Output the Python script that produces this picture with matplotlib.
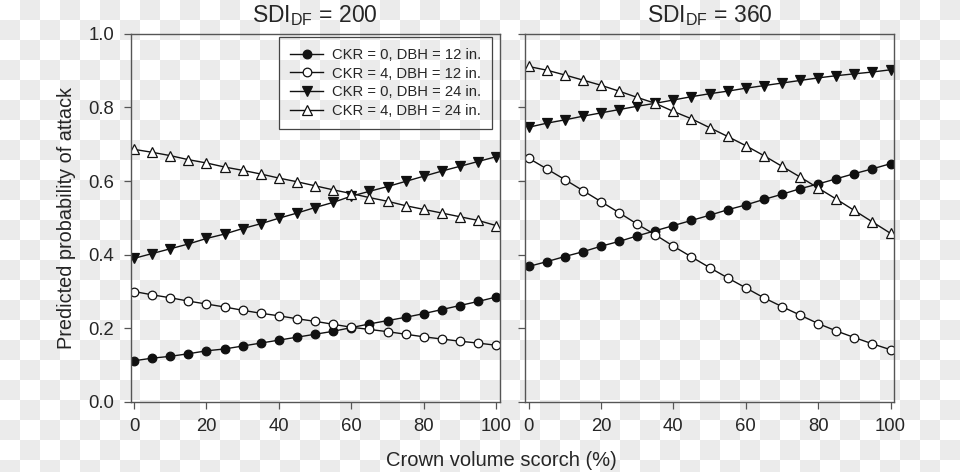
import numpy as np
import matplotlib
matplotlib.use("Agg")
import matplotlib.pyplot as plt

plt.rcParams['font.family'] = ['Liberation Sans', 'DejaVu Sans']
plt.rcParams['mathtext.fontset'] = 'custom'
plt.rcParams['mathtext.rm'] = 'Liberation Sans'

# ---- data ----
scorch = [0, 5, 10, 15, 20, 25, 30, 35, 40, 45, 50, 55, 60, 65, 70, 75, 80, 85, 90, 95, 100]
x_ticks = [0, 20, 40, 60, 80, 100]
y_ticks = [0.0, 0.2, 0.4, 0.6, 0.8, 1.0]
panel_titles = [r'SDI$_{\mathrm{DF}}$ = 200', r'SDI$_{\mathrm{DF}}$ = 360']
series_labels = ['CKR = 0, DBH = 12 in.', 'CKR = 4, DBH = 12 in.',
                 'CKR = 0, DBH = 24 in.', 'CKR = 4, DBH = 24 in.']

ckr0_dbh12_200 = [0.112, 0.119, 0.124, 0.131, 0.139, 0.144, 0.152, 0.160, 0.168, 0.176, 0.184,
                  0.192, 0.202, 0.212, 0.221, 0.230, 0.240, 0.251, 0.262, 0.273, 0.285]
ckr4_dbh12_200 = [0.300, 0.291, 0.283, 0.274, 0.266, 0.258, 0.249, 0.241, 0.234, 0.226, 0.219,
                  0.211, 0.203, 0.197, 0.191, 0.184, 0.177, 0.171, 0.165, 0.160, 0.154]
ckr0_dbh24_200 = [0.390, 0.403, 0.416, 0.429, 0.444, 0.456, 0.471, 0.484, 0.499, 0.513, 0.528,
                  0.542, 0.559, 0.572, 0.585, 0.599, 0.613, 0.627, 0.640, 0.653, 0.666]
ckr4_dbh24_200 = [0.686, 0.678, 0.669, 0.658, 0.649, 0.638, 0.629, 0.619, 0.608, 0.598, 0.587,
                  0.576, 0.566, 0.555, 0.545, 0.533, 0.523, 0.513, 0.503, 0.493, 0.479]

ckr0_dbh12_360 = [0.368, 0.381, 0.395, 0.408, 0.423, 0.436, 0.451, 0.465, 0.479, 0.493, 0.507,
                  0.522, 0.535, 0.550, 0.564, 0.579, 0.592, 0.606, 0.620, 0.633, 0.647]
ckr4_dbh12_360 = [0.662, 0.633, 0.604, 0.574, 0.544, 0.514, 0.483, 0.454, 0.423, 0.394, 0.365,
                  0.337, 0.310, 0.283, 0.259, 0.236, 0.213, 0.193, 0.175, 0.158, 0.142]
ckr0_dbh24_360 = [0.746, 0.757, 0.766, 0.776, 0.785, 0.794, 0.803, 0.811, 0.820, 0.829, 0.837,
                  0.844, 0.852, 0.859, 0.866, 0.873, 0.880, 0.886, 0.891, 0.896, 0.902]
ckr4_dbh24_360 = [0.911, 0.901, 0.888, 0.874, 0.860, 0.844, 0.827, 0.811, 0.789, 0.769, 0.745,
                  0.721, 0.696, 0.669, 0.640, 0.611, 0.581, 0.551, 0.520, 0.489, 0.458]

panels = [
    [ckr0_dbh12_200, ckr4_dbh12_200, ckr0_dbh24_200, ckr4_dbh24_200],
    [ckr0_dbh12_360, ckr4_dbh12_360, ckr0_dbh24_360, ckr4_dbh24_360],
]

# ---- styles ----
styles = [
    dict(marker='o', markerfacecolor='#111111', markersize=6.2),
    dict(marker='o', markerfacecolor='white', markersize=6.2),
    dict(marker='v', markerfacecolor='#111111', markersize=6.8),
    dict(marker='^', markerfacecolor='white', markersize=6.8),
]
W, H = 960, 472
fig = plt.figure(figsize=(W / 100, H / 100), dpi=100)

# transparent-look checkerboard background (drawn in a background axes)
yy, xx = np.mgrid[0:H, 0:W]
checker = (((xx // 20) + (yy // 20)) % 2).astype(float)
bg = np.where(checker[..., None] > 0, np.array([0.922, 0.922, 0.922]), np.array([1.0, 1.0, 1.0]))
bgax = fig.add_axes([0, 0, 1, 1], zorder=-10)
bgax.imshow(bg, origin='upper', aspect='auto', interpolation='nearest', extent=(0, W, H, 0))
bgax.set_axis_off()

spine_col = '#555555'
text_col = '#262626'
axes_pos = [[130.7 / W, 1 - 402 / H, 369.3 / W, 368.3 / H],
            [525.3 / W, 1 - 402 / H, 369.0 / W, 368.3 / H]]

for i, (pos, data) in enumerate(zip(axes_pos, panels)):
    ax = fig.add_axes(pos)
    ax.set_facecolor('none')
    for d, st, lab in zip(data, styles, series_labels):
        ax.plot(scorch, d, color='#111111', lw=1.0, markeredgecolor='#111111',
                markeredgewidth=0.9, label=lab, **st)
    ax.set_xlim(-0.92, 101.05)
    ax.set_ylim(0, 1.0)
    ax.set_xticks(x_ticks)
    ax.set_yticks(y_ticks)
    for s in ax.spines.values():
        s.set_color(spine_col)
        s.set_linewidth(1.0)
    ax.tick_params(direction='out', length=5, width=0.9, color=spine_col,
                   labelsize=13.3, labelcolor=text_col)
    ax.tick_params(axis='x', pad=6.5)
    ax.tick_params(axis='y', pad=7)
    if i == 0:
        ax.set_yticklabels([f'{v:.1f}' for v in y_ticks])
        ax.set_ylabel('Predicted probability of attack', fontsize=14.3, color=text_col, labelpad=9)
        ax.legend(loc='upper right', bbox_to_anchor=(0.978, 0.991), borderaxespad=0,
                  fontsize=10.6, frameon=True, fancybox=False, facecolor='none',
                  edgecolor='#444444', framealpha=1, handlelength=2.3, labelspacing=0.31,
                  handletextpad=0.55, borderpad=0.75)
        leg = ax.get_legend()
        leg.get_frame().set_linewidth(0.9)
        for t in leg.get_texts():
            t.set_color(text_col)
    else:
        ax.set_yticklabels([])
    ax.set_title(panel_titles[i], fontsize=16.5, color=text_col, pad=8.5)

fig.text(501 / W, 1 - 461 / H, 'Crown volume scorch (%)', ha='center', va='center',
         fontsize=14.5, color=text_col)

fig.savefig('out.png', dpi=100)
